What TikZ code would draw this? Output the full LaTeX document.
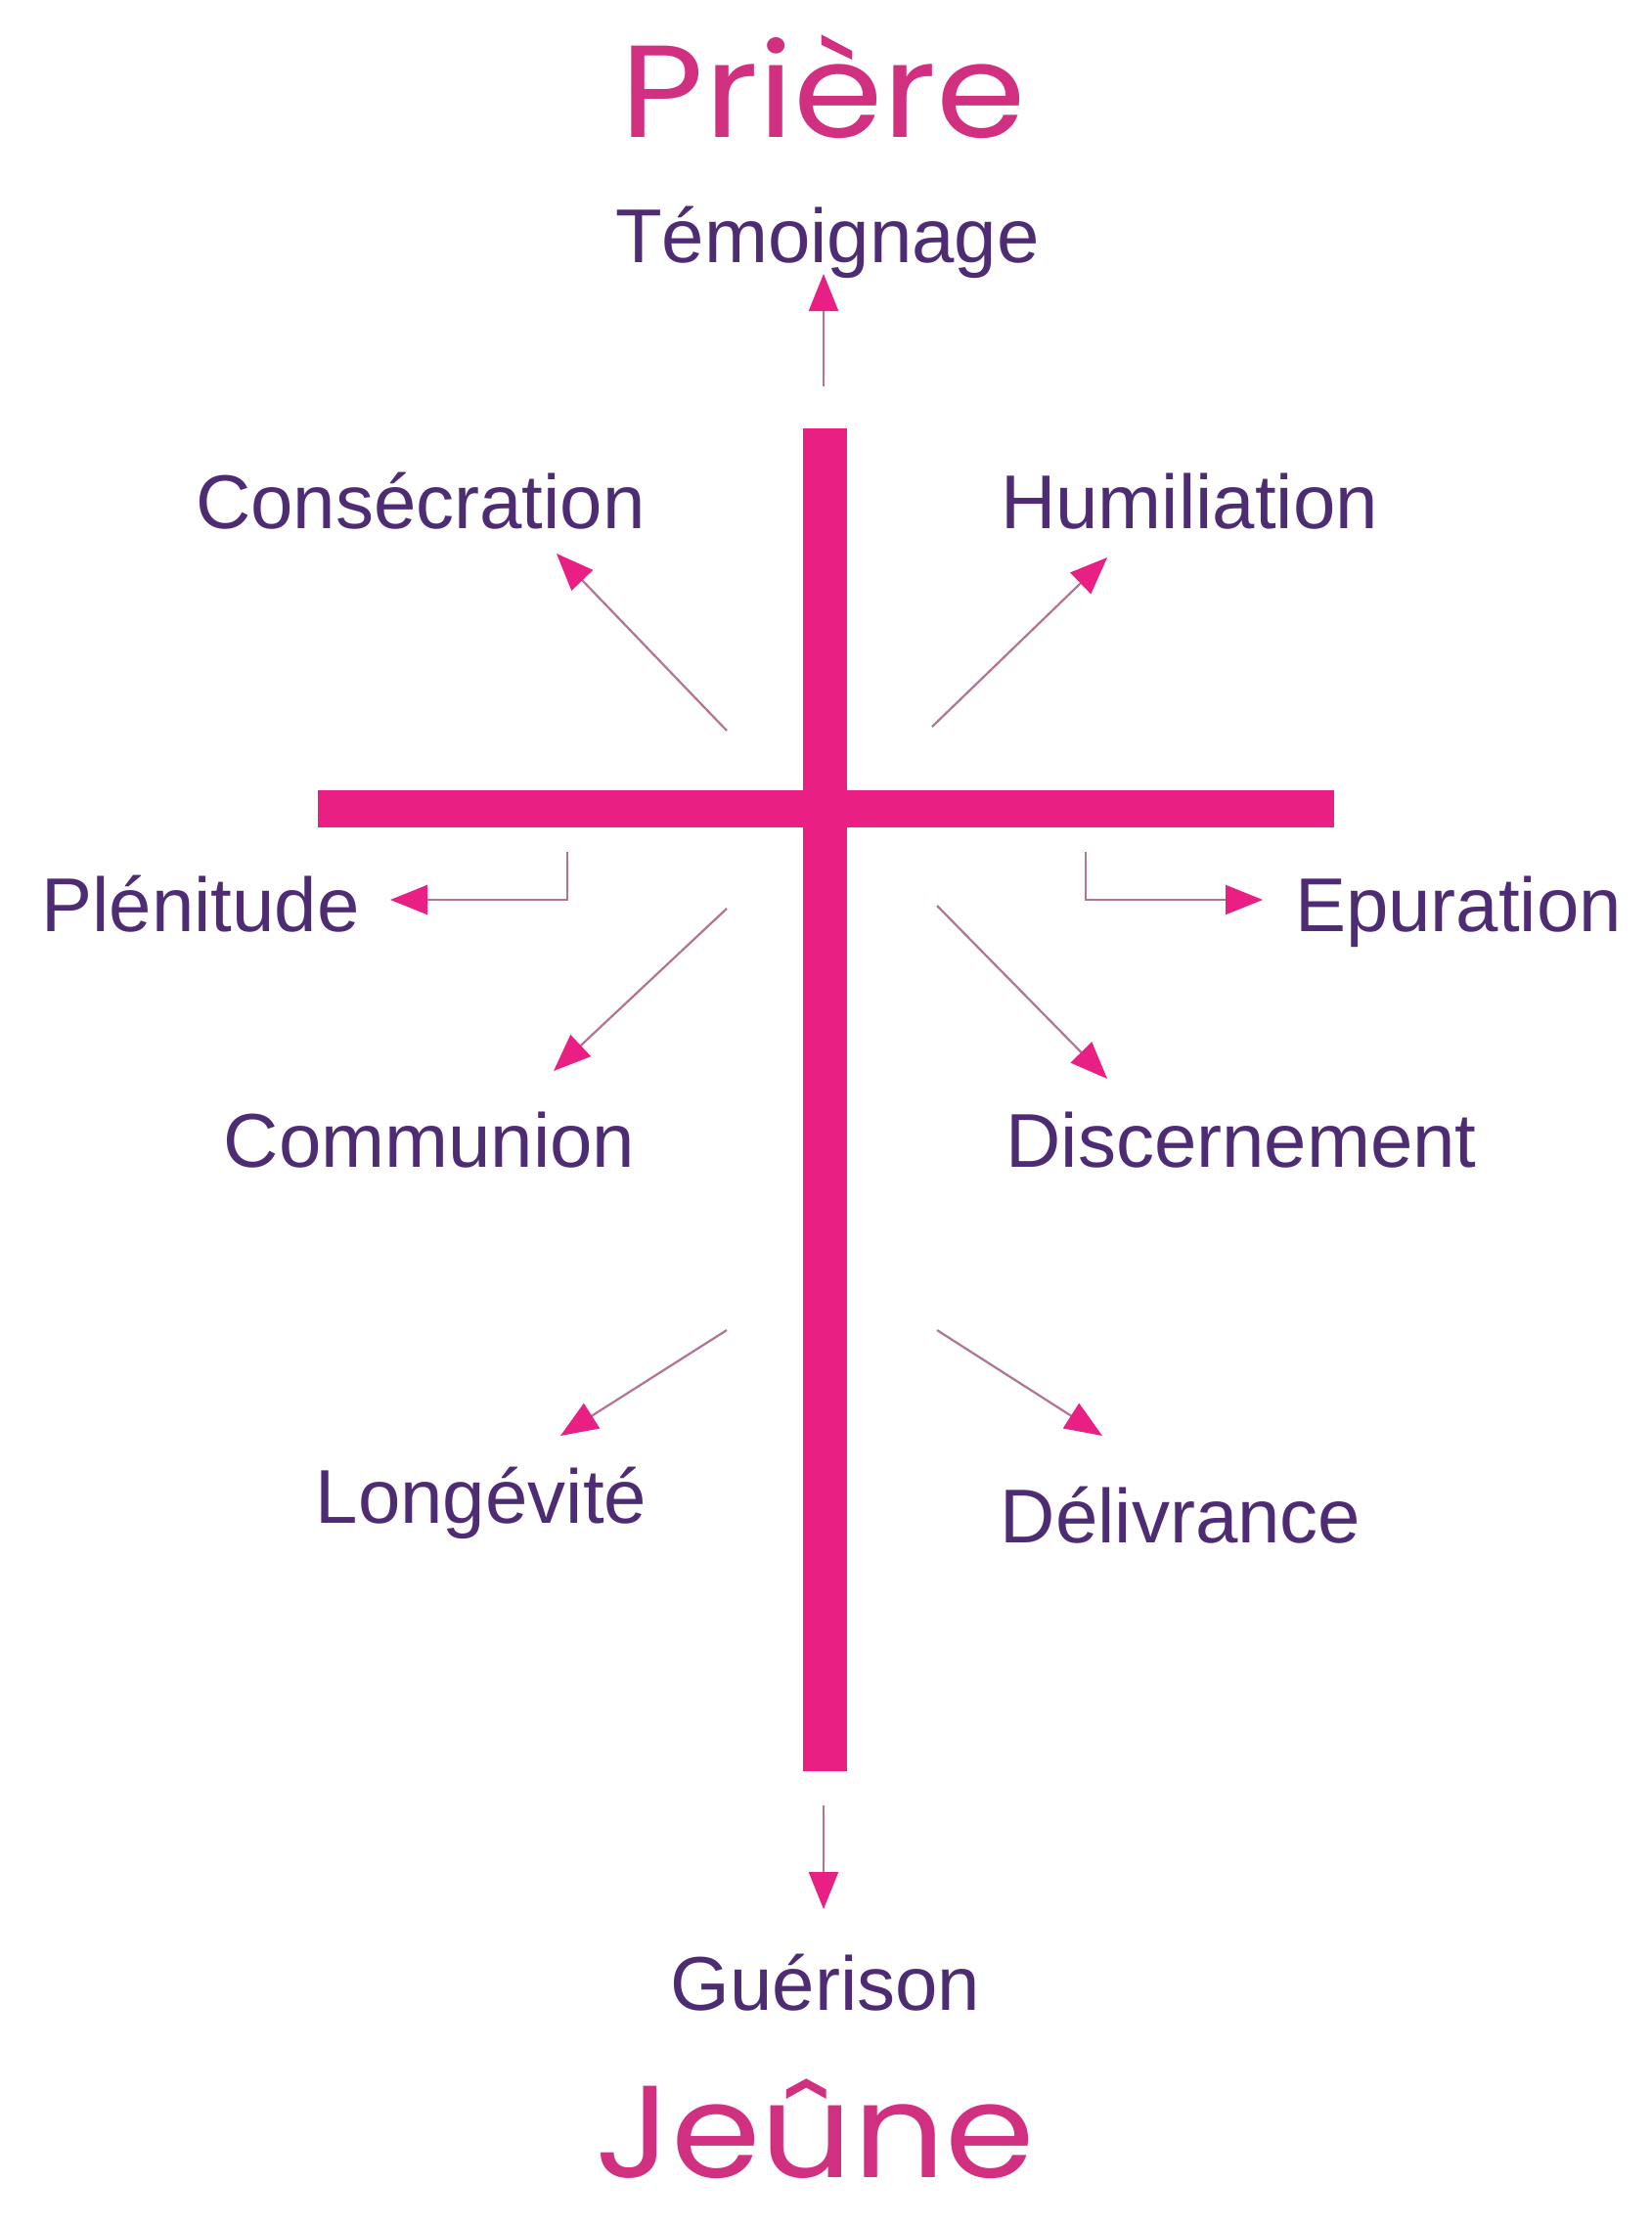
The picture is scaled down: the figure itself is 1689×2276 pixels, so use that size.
\documentclass[tikz,border=0pt]{standalone}
\usepackage{fontspec}
\setmainfont{Liberation Sans}
\newfontfamily\titlefont{Poppins}
\usetikzlibrary{arrows.meta,positioning}
\definecolor{CrossPink}{HTML}{EA1F84}
\definecolor{TitlePink}{HTML}{D0307F}
\definecolor{LabelPurple}{HTML}{4E2C74}
\definecolor{StemMauve}{HTML}{B27494}
\begin{document}
\begin{tikzpicture}[x=1pt,y=-1pt,
  virtue/.style={text=LabelPurple,font=\fontsize{78}{80}\selectfont,
                 anchor=base,inner sep=0pt},
  heading/.style={text=TitlePink,font=\titlefont\fontsize{134}{140}\selectfont,
                  anchor=base,inner sep=0pt,xscale=1.1,transform shape},
  beam/.style={fill=CrossPink,draw=none,inner sep=0pt},
  arr/.style={-{Triangle[length=38pt,width=30pt,color=CrossPink]},
              line width=2.2pt,draw=StemMauve}
]
\useasboundingbox[fill=white] (0,0) rectangle (1689,2276);
\node[heading] (priere) at (842,140) {Prière};
\node[heading] (jeune) at (833,2226) {Jeûne};
\node[virtue] (temoignage) at (846,268) {Témoignage};
\node[virtue] (consecration) at (430,540) {Consécration};
\node[virtue] (humiliation) at (1216,540) {Humiliation};
\node[virtue] (plenitude) at (205,952) {Plénitude};
\node[virtue] (epuration) at (1491,952) {Epuration};
\node[virtue] (communion) at (439,1193) {Communion};
\node[virtue] (discernement) at (1269,1193) {Discernement};
\node[virtue] (longevite) at (492,1557) {Longévité};
\node[virtue] (delivrance) at (1207,1577) {Délivrance};
\node[virtue] (guerison) at (844,2055) {Guérison};
\node[beam,minimum width=45pt,minimum height=1373pt] (post) at (843,1124.5) {};
\node[beam,minimum width=1039pt,minimum height=38pt] (crossbar) at (844.5,827) {};
\coordinate (up-from) at (842,395);
\coordinate (up-to) at (842,280);
\coordinate (cons-from) at (743,747);
\coordinate (cons-to) at (569,566);
\coordinate (humi-from) at (953,743);
\coordinate (humi-to) at (1132,570);
\coordinate (plen-from) at (580,871);
\coordinate (plen-to) at (399,920);
\coordinate (epur-from) at (1110,871);
\coordinate (epur-to) at (1291,920);
\coordinate (comm-from) at (743,929);
\coordinate (comm-to) at (566,1095);
\coordinate (disc-from) at (958,926);
\coordinate (disc-to) at (1132,1103);
\coordinate (long-from) at (743,1360);
\coordinate (long-to) at (573,1468);
\coordinate (deli-from) at (958,1360);
\coordinate (deli-to) at (1127,1468);
\coordinate (down-from) at (842,1846);
\coordinate (down-to) at (842,1952);
\draw[arr] (up-from) -- (up-to);
\draw[arr] (cons-from) -- (cons-to);
\draw[arr] (humi-from) -- (humi-to);
\draw[arr] (plen-from) |- (plen-to);
\draw[arr] (epur-from) |- (epur-to);
\draw[arr] (comm-from) -- (comm-to);
\draw[arr] (disc-from) -- (disc-to);
\draw[arr] (long-from) -- (long-to);
\draw[arr] (deli-from) -- (deli-to);
\draw[arr] (down-from) -- (down-to);
\end{tikzpicture}
\end{document}
